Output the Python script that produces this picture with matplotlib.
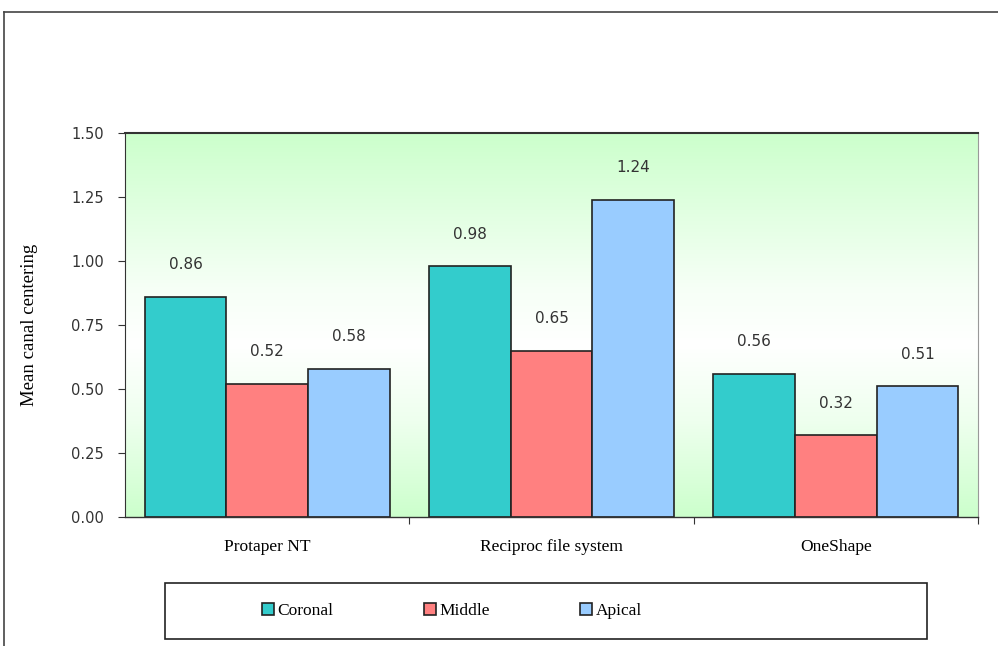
import matplotlib
matplotlib.use("Agg")
import matplotlib.pyplot as plt
import numpy as np
from matplotlib.colors import LinearSegmentedColormap
from matplotlib.patches import Rectangle
from matplotlib.lines import Line2D

categories = ["Protaper NT", "Reciproc file system", "OneShape"]
series_names = ["Coronal", "Middle", "Apical"]
coronal = [0.86, 0.98, 0.56]
middle = [0.52, 0.65, 0.32]
apical = [0.58, 1.24, 0.51]
yticks = [0.00, 0.25, 0.50, 0.75, 1.00, 1.25, 1.50]
colors = ["#33CCCC", "#FF8080", "#99CCFF"]

W, H = 998, 646
fig = plt.figure(figsize=(W / 100, H / 100), dpi=100)
ax = fig.add_axes([125 / W, 1 - 517 / H, (978 - 125) / W, (517 - 133) / H])

# gradient background
cmap = LinearSegmentedColormap.from_list(
    "bg", [(0.0, "#CCFFCC"), (0.25, "#EEFFEE"), (0.45, "#FFFFFF"), (0.6, "#F6FFF6"), (1.0, "#CCFFCC")])
grad = np.linspace(0, 1, 256).reshape(-1, 1)
ax.imshow(grad, aspect="auto", cmap=cmap, extent=[-0.5, 2.5, 1.5, 0.0], zorder=0)

x = np.arange(len(categories))
bw = 0.287
series = [coronal, middle, apical]
for i, (vals, name, c) in enumerate(zip(series, series_names, colors)):
    xs = x + (i - 1) * bw
    ax.bar(xs, vals, width=bw, color=c, edgecolor="#222222", linewidth=1.2, label=name, zorder=2)
    for xi, v in zip(xs, vals):
        ax.annotate(f"{v:.2f}", (xi, v), xytext=(0, 32), textcoords="offset pixels",
                    ha="center", va="center", fontsize=11, color="#333333",
                    family="DejaVu Sans", zorder=3)

ax.set_xlim(-0.5, 2.5)
ax.set_ylim(0, 1.5)
ax.set_yticks(yticks)
ax.set_yticklabels([f"{t:.2f}" for t in yticks], family="DejaVu Sans", fontsize=10.5, color="#333333")
ax.set_xticks([0.5, 1.5, 2.5], minor=False)
ax.set_xticklabels([])
ax.set_xticks(x, minor=True)
ax.set_xticklabels(categories, minor=True, family="Liberation Serif", fontsize=12.5)
ax.tick_params(axis="x", which="minor", length=0, pad=16)
ax.tick_params(axis="x", which="major", length=5, direction="out", color="#333333")
ax.tick_params(axis="y", length=5, direction="out", color="#333333", pad=10)
for s in ["top", "bottom"]:
    ax.spines[s].set_color("#333333")
    ax.spines[s].set_linewidth(1.5 if s == "top" else 1.0)
ax.spines["left"].set_color("#333333")
ax.spines["right"].set_color("#999999")
ax.spines["right"].set_linewidth(0.8)
ax.set_ylabel("Mean canal centering", family="Liberation Serif", fontsize=13.5, labelpad=24)

# legend box
fig.add_artist(Rectangle((165 / W, 1 - 639 / H), (927 - 165) / W, (639 - 583) / H,
                         transform=fig.transFigure, fill=False, edgecolor="#222222", linewidth=1.2))
handles, labels = ax.get_legend_handles_labels()
leg = fig.legend(handles, labels, loc="center", bbox_to_anchor=(452 / W, 1 - 611 / H), ncol=3,
                 frameon=False, prop={"family": "Liberation Serif", "size": 12.5},
                 handlelength=0.7, handleheight=0.7, handletextpad=0.2, columnspacing=5.2)

# outer border
fig.add_artist(Line2D([4 / W, 4 / W], [0, 1 - 12 / H], transform=fig.transFigure, color="#444444", lw=1.2))
fig.add_artist(Line2D([4 / W, 1], [1 - 12 / H, 1 - 12 / H], transform=fig.transFigure, color="#444444", lw=1.2))

fig.savefig("out.png", dpi=100)
